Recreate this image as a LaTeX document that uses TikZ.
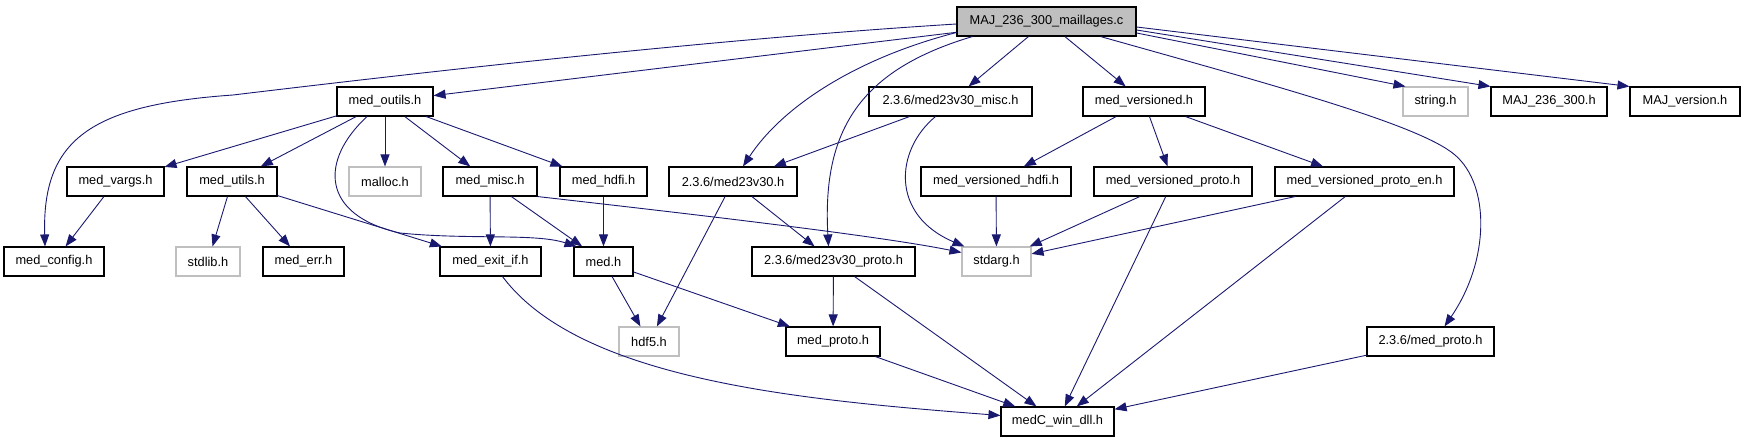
\documentclass[tikz,border=0pt]{standalone}
\usepackage{fontspec}
\setmainfont{Liberation Sans}
\definecolor{edgeblue}{RGB}{25,25,112}
\definecolor{sysgray}{RGB}{191,191,191}
\definecolor{rootfill}{RGB}{191,191,191}
\usetikzlibrary{arrows.meta,positioning}

\begin{document}
\begin{tikzpicture}[x=1pt, y=-1pt,
  file/.style={draw=black, fill=white, line width=1.1pt, minimum height=29pt, inner sep=0pt, font=\fontsize{12.8}{14}\selectfont},
  sysfile/.style={file, draw=sysgray},
  rootfile/.style={file, fill=rootfill},
  edge/.style={-{Triangle[length=12pt,width=9pt]}, line width=0.9pt, edgeblue}]
  \useasboundingbox (0,0) rectangle (1745,443);

  %--- top level ---
  \node[rootfile, minimum width=179pt] (maj) at (1046.5,21.5) {MAJ\_236\_300\_maillages.c};

  %--- second row ---
  \node[file, minimum width=96pt] (outils) at (385,101.5) {med\_outils.h};
  \node[file, minimum width=163pt] (m23misc) at (950.5,101.5) {2.3.6/med23v30\_misc.h};
  \node[file, minimum width=122pt] (versioned) at (1144,101.5) {med\_versioned.h};
  \node[sysfile, minimum width=65pt] (stringh) at (1435.5,101.5) {string.h};
  \node[file, minimum width=116pt] (maj236) at (1549,101.5) {MAJ\_236\_300.h};
  \node[file, minimum width=110pt] (majver) at (1685,101.5) {MAJ\_version.h};

  %--- third row ---
  \node[file, minimum width=97pt] (vargs) at (115.5,181.5) {med\_vargs.h};
  \node[file, minimum width=90pt] (utils) at (232,181.5) {med\_utils.h};
  \node[sysfile, minimum width=72pt] (malloch) at (385,181.5) {malloc.h};
  \node[file, minimum width=94pt] (misc) at (490,181.5) {med\_misc.h};
  \node[file, minimum width=87pt] (hdfi) at (603.5,181.5) {med\_hdfi.h};
  \node[file, minimum width=128pt] (m23) at (733,181.5) {2.3.6/med23v30.h};
  \node[file, minimum width=150pt] (vhdfi) at (996,181.5) {med\_versioned\_hdfi.h};
  \node[file, minimum width=158pt] (vproto) at (1173,181.5) {med\_versioned\_proto.h};
  \node[file, minimum width=179pt] (vprotoen) at (1364.5,181.5) {med\_versioned\_proto\_en.h};

  %--- fourth row ---
  \node[file, minimum width=100pt] (config) at (54,261.5) {med\_config.h};
  \node[sysfile, minimum width=64pt] (stdlibh) at (208,261.5) {stdlib.h};
  \node[file, minimum width=81pt] (err) at (303.5,261.5) {med\_err.h};
  \node[file, minimum width=101pt] (exitif) at (490.5,261.5) {med\_exit\_if.h};
  \node[file, minimum width=59pt] (medh) at (603.5,261.5) {med.h};
  \node[file, minimum width=163pt] (m23proto) at (833.5,261.5) {2.3.6/med23v30\_proto.h};
  \node[sysfile, minimum width=69pt] (stdargh) at (996.5,261.5) {stdarg.h};

  %--- fifth and last rows ---
  \node[sysfile, minimum width=60pt] (hdf5h) at (649,341.5) {hdf5.h};
  \node[file, minimum width=94pt] (proto) at (833,341.5) {med\_proto.h};
  \node[file, minimum width=127pt] (p236) at (1430.5,341.5) {2.3.6/med\_proto.h};
  \node[file, minimum width=113pt] (dll) at (1057.5,421.5) {medC\_win\_dll.h};

  %--- includes of the root file ---
  \draw[edge] ([yshift=-2.5]maj.west) .. controls (700,40) and (400,75) .. (233,95) .. controls (90,105) and (42,140) .. ([xshift=-9]config.north);
  \draw[edge] (maj) -- (outils);
  \draw[edge] ([yshift=-11]maj.west) .. controls (850,60) and (780,110) .. ([xshift=10]m23.north);
  \draw[edge] ([xshift=16]maj.south west) .. controls (860,70) and (822,130) .. ([xshift=-5]m23proto.north);
  \draw[edge] (maj) -- (m23misc);
  \draw[edge] (maj) -- (versioned);
  \draw[edge] ([xshift=-36]maj.south east) .. controls (1280,87) and (1420,125) .. (1455,155) .. controls (1490,185) and (1490,260) .. ([xshift=14]p236.north);
  \draw[edge] ([yshift=-11.5]maj.east) -- ([xshift=3]stringh.north west);
  \draw[edge] ([yshift=-8.5]maj.east) -- (maj236.north west);
  \draw[edge] ([yshift=-5.5]maj.east) -- (majver.north west);

  %--- med_outils.h ---
  \draw[edge] (outils) -- (vargs);
  \draw[edge] (outils) -- (utils);
  \draw[edge] (outils) -- (malloch);
  \draw[edge] (outils) -- (misc);
  \draw[edge] (outils) -- (hdfi);
  \draw[edge] ([xshift=-18]outils.south) .. controls (320,160) and (320,215) .. (400,233) .. controls (470,240) and (535,233) .. ([xshift=-27]medh.north);

  %--- third row includes ---
  \draw[edge] (vargs) -- (config);
  \draw[edge] (utils) -- (stdlibh);
  \draw[edge] (utils) -- (err);
  \draw[edge] (utils) -- (exitif);
  \draw[edge] (misc) -- (exitif);
  \draw[edge] (misc) -- (medh);
  \draw[edge] (misc.south east) .. controls (700,215) and (880,236) .. ([yshift=9]stdargh.west);
  \draw[edge] (hdfi) -- (medh);
  \draw[edge] (m23) -- (hdf5h);
  \draw[edge] (m23) -- (m23proto);
  \draw[edge] (m23misc) -- (m23);
  \draw[edge] ([xshift=-15]m23misc.south) .. controls (895,150) and (890,215) .. ([xshift=3]stdargh.north west);

  %--- med_versioned.h ---
  \draw[edge] (versioned) -- (vhdfi);
  \draw[edge] (versioned) -- (vproto);
  \draw[edge] (versioned) -- (vprotoen);
  \draw[edge] (vhdfi) -- (stdargh);
  \draw[edge] (vproto) -- (stdargh);
  \draw[edge] (vproto) -- (dll);
  \draw[edge] (vprotoen) -- (stdargh);
  \draw[edge] (vprotoen) -- (dll);

  %--- lower rows ---
  \draw[edge] ([xshift=12]exitif.south) .. controls (580,380) and (800,400) .. ([yshift=6]dll.west);
  \draw[edge] (medh) -- (hdf5h);
  \draw[edge] (medh) -- (proto);
  \draw[edge] (m23proto) -- (proto);
  \draw[edge] (m23proto) -- (dll);
  \draw[edge] (proto) -- (dll);
  \draw[edge] (p236) -- (dll);
\end{tikzpicture}
\end{document}
